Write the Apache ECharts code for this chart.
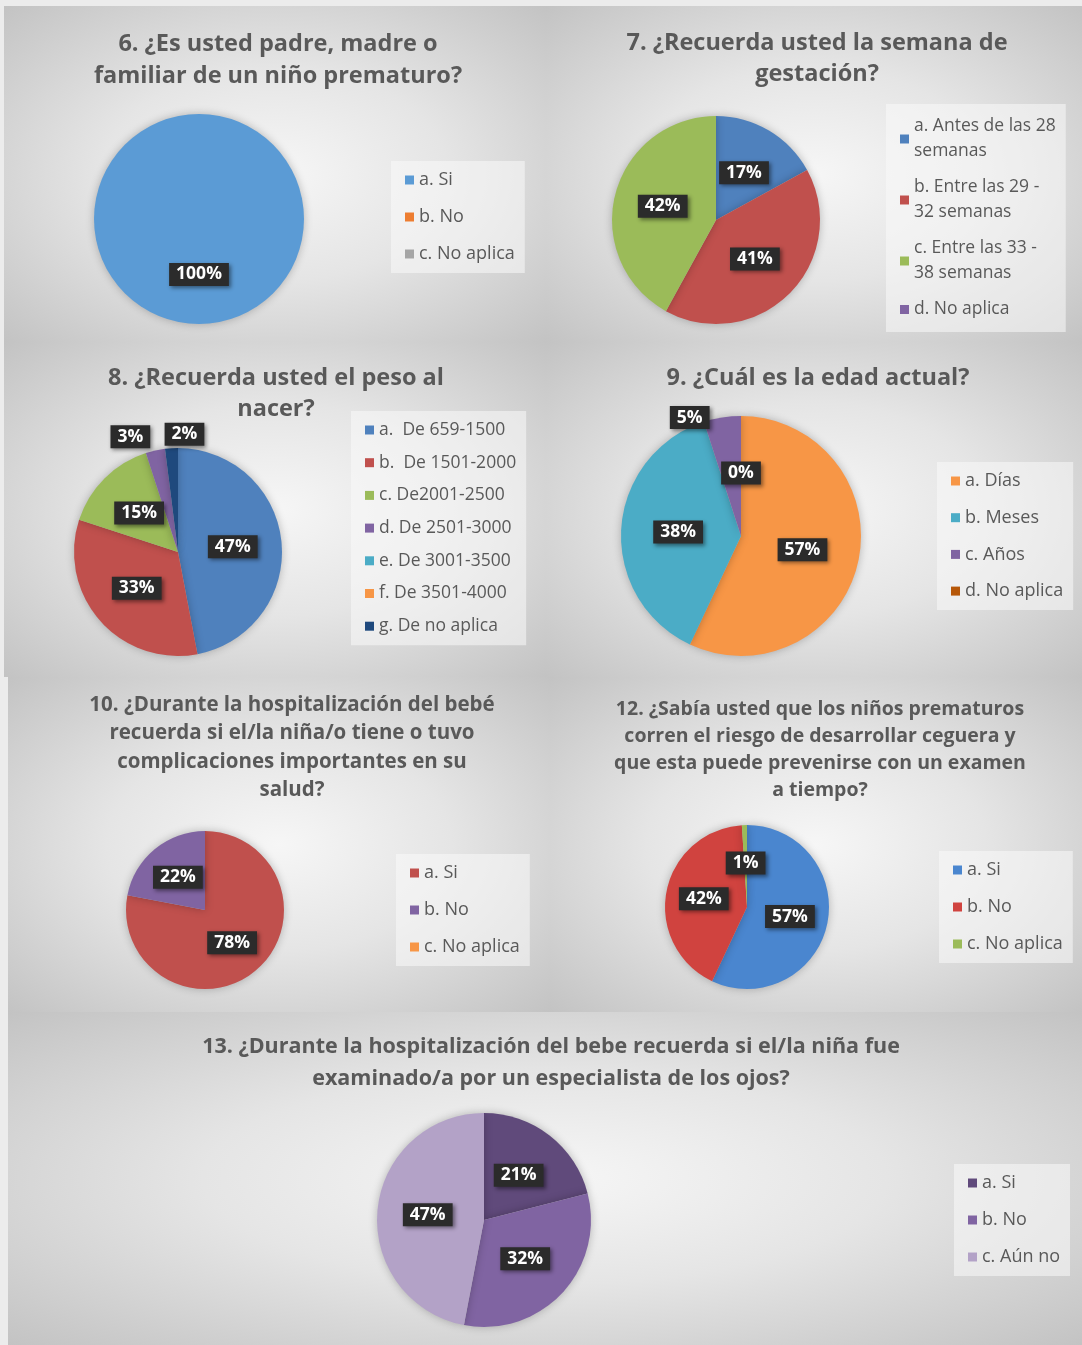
<!DOCTYPE html>
<html>
<head>
<meta charset="UTF-8">
<title>Encuesta - prematuros</title>
<script src="https://cdn.jsdelivr.net/npm/echarts@6/dist/echarts.min.js"></script>
<style>
    html, body { margin: 0; padding: 0; }
    body { width: 1082px; height: 1345px; background: #ececec; position: relative; overflow: hidden; }
    .panel {
        position: absolute;
        background: radial-gradient(ellipse at center, #f6f6f6 0%, #e5e5e5 45%, #c3c3c3 100%);
    }
</style>
</head>
<body>

<div id="p6" class="panel" style="left:4px;top:6px;width:542px;height:336px;"></div>
<div id="p7" class="panel" style="left:546px;top:6px;width:536px;height:336px;"></div>
<div id="p8" class="panel" style="left:4px;top:342px;width:542px;height:335px;"></div>
<div id="p9" class="panel" style="left:546px;top:342px;width:536px;height:335px;"></div>
<div id="p10" class="panel" style="left:8px;top:677px;width:542px;height:335px;"></div>
<div id="p12" class="panel" style="left:550px;top:677px;width:532px;height:335px;"></div>
<div id="p13" class="panel" style="left:8px;top:1012px;width:1074px;height:333px;"></div>

<script type="text/javascript">
// datos de cada pregunta (porcentajes)
var cats6 = ['a. Si', 'b. No', 'c. No aplica'];
var vals6 = [100, 0, 0];

var cats7 = ['a. Antes de las 28 semanas', 'b. Entre las 29 - 32 semanas', 'c. Entre las 33 - 38 semanas', 'd. No aplica'];
var vals7 = [17, 41, 42, 0];

var cats8 = ['a.  De 659-1500', 'b.  De 1501-2000', 'c. De2001-2500', 'd. De 2501-3000', 'e. De 3001-3500', 'f. De 3501-4000', 'g. De no aplica'];
var vals8 = [47, 33, 15, 3, 0, 0, 2];

var cats9 = ['a. Días', 'b. Meses', 'c. Años', 'd. No aplica'];
var vals9 = [57, 38, 5, 0];

var cats10 = ['a. Si', 'b. No', 'c. No aplica'];
var vals10 = [78, 22, 0];

var cats12 = ['a. Si', 'b. No', 'c. No aplica'];
var vals12 = [57, 42, 1];

var cats13 = ['a. Si', 'b. No', 'c. Aún no'];
var vals13 = [21, 32, 47];

var FONT = '"Open Sans", Lato, sans-serif';

// corta el texto de la leyenda en lineas de maxChars
function wrap(name, maxChars) {
    var words = name.split(' '), lines = [], cur = '';
    for (var i = 0; i < words.length; i++) {
        var next = cur ? cur + ' ' + words[i] : words[i];
        if (next.length > maxChars && cur) { lines.push(cur); cur = words[i]; }
        else cur = next;
    }
    if (cur) lines.push(cur);
    return lines.join('\n');
}

function makePie(id, cfg) {
    var chart = echarts.init(document.getElementById(id), null, { renderer: 'canvas' });
    var data = [];
    for (var i = 0; i < cfg.cats.length; i++) {
        var item = { name: cfg.cats[i], value: cfg.vals[i] };
        if (cfg.vals[i] === 0 && cfg.hideZero) {
            item.label = { show: false };
        } else if (cfg.outside && cfg.outside.indexOf(i) >= 0) {
            item.label = { position: 'outside', distanceToLabelLine: 2 };
            item.labelLine = { show: false, length: cfg.outLen, length2: 0 };
        }
        data.push(item);
    }
    var shift = cfg.shift || {};
    var option = {
        color: cfg.colors,
        textStyle: { fontFamily: FONT },
        title: {
            text: cfg.title,
            left: cfg.titleX,
            top: cfg.titleTop,
            textAlign: 'center',
            padding: 0,
            textStyle: {
                fontFamily: FONT,
                fontSize: cfg.titleSize,
                lineHeight: cfg.titleLine,
                fontWeight: 'bold',
                color: '#595959'
            }
        },
        legend: {
            orient: 'vertical',
            left: cfg.legend.left,
            top: cfg.legend.top,
            itemGap: cfg.legend.gap,
            itemWidth: 9,
            itemHeight: 9,
            icon: 'rect',
            padding: [10, 10, 10, 14],
            backgroundColor: 'rgba(250,250,250,0.55)',
            data: cfg.cats,
            formatter: function (name) {
                return cfg.legend.wrap ? wrap(name, cfg.legend.wrap) : name;
            },
            textStyle: {
                fontFamily: FONT,
                fontSize: cfg.legend.fontSize || 18,
                lineHeight: cfg.legend.lineHeight || 18,
                color: '#595959'
            }
        },
        series: [{
            type: 'pie',
            center: cfg.center,
            radius: cfg.radius,
            startAngle: 90,
            avoidLabelOverlap: false,
            itemStyle: {
                shadowBlur: 8,
                shadowColor: 'rgba(0,0,0,0.25)'
            },
            label: {
                show: true,
                position: 'inside',
                formatter: function (p) { return Math.round(p.percent) + '%'; },
                color: '#ffffff',
                fontFamily: FONT,
                fontWeight: 'bold',
                fontSize: 17.5,
                backgroundColor: '#2b2b2b',
                padding: [3, 7, 2, 7],
                shadowBlur: 4,
                shadowColor: 'rgba(0,0,0,0.45)',
                shadowOffsetX: 2,
                shadowOffsetY: 2
            },
            labelLine: { show: false },
            labelLayout: function (p) {
                var s = shift[p.dataIndex];
                var out = { hideOverlap: false };
                if (s) {
                    for (var k in s) out[k] = s[k];
                }
                return out;
            },
            emphasis: { disabled: true },
            data: data
        }]
    };
    chart.setOption(option);
    return chart;
}

makePie('p6', {
    title: '6. ¿Es usted padre, madre o\nfamiliar de un niño prematuro?',
    titleSize: 23.5, titleLine: 32, titleTop: 22, titleX: 274,
    cats: cats6, vals: vals6, hideZero: true,
    colors: ['#5b9bd5', '#ed7d31', '#a5a5a5'],
    center: [195, 213], radius: 105,
    legend: { left: 387, top: 155, gap: 19 }
});

makePie('p7', {
    title: '7. ¿Recuerda usted la semana de\ngestación?',
    titleSize: 23.5, titleLine: 31, titleTop: 22, titleX: 271,
    cats: cats7, vals: vals7, hideZero: true,
    colors: ['#4f81bd', '#c0504d', '#9bbb59', '#8064a2'],
    center: [170, 214], radius: 104,
    legend: { left: 340, top: 98, gap: 11, lineHeight: 25, wrap: 18, fontSize: 17.5 }
});

makePie('p8', {
    title: '8. ¿Recuerda usted el peso al\nnacer?',
    titleSize: 23.5, titleLine: 31, titleTop: 21, titleX: 272,
    cats: cats8, vals: vals8, hideZero: true, outside: [3, 6], outLen: 14,
    shift: { 6: { align: 'left', dx: -4 } },
    colors: ['#4f81bd', '#c0504d', '#9bbb59', '#8064a2', '#4bacc6', '#f79646', '#1f497d'],
    center: [174, 210], radius: 104,
    legend: { left: 347, top: 69, gap: 14.7, fontSize: 17.5 }
});

makePie('p9', {
    title: '9. ¿Cuál es la edad actual?',
    titleSize: 23.5, titleLine: 31, titleTop: 21, titleX: 272,
    cats: cats9, vals: vals9, hideZero: false, outside: [2], outLen: 4,
    shift: { 2: { dx: -10, dy: 4 } },
    colors: ['#f79646', '#4bacc6', '#8064a2', '#b65708'],
    center: [195, 194], radius: 120,
    legend: { left: 391, top: 120, gap: 18.7 }
});

makePie('p10', {
    title: '10. ¿Durante la hospitalización del bebé\nrecuerda si el/la niña/o tiene o tuvo\ncomplicaciones importantes en su\nsalud?',
    titleSize: 20.5, titleLine: 28.3, titleTop: 14, titleX: 284,
    cats: cats10, vals: vals10, hideZero: true,
    colors: ['#c0504d', '#8064a2', '#f79646'],
    center: [197, 233], radius: 79,
    legend: { left: 388, top: 177, gap: 19 }
});

makePie('p12', {
    title: '12. ¿Sabía usted que los niños prematuros\ncorren el riesgo de desarrollar ceguera y\nque esta puede prevenirse con un examen\na tiempo?',
    titleSize: 19.5, titleLine: 27, titleTop: 19, titleX: 270,
    cats: cats12, vals: vals12, hideZero: true,
    colors: ['#4a86cf', '#d0433f', '#9bbb59'],
    center: [197, 230], radius: 82,
    legend: { left: 389, top: 174, gap: 19 }
});

makePie('p13', {
    title: '13. ¿Durante la hospitalización del bebe recuerda si el/la niña fue\nexaminado/a por un especialista de los ojos?',
    titleSize: 21.5, titleLine: 32, titleTop: 19, titleX: 543,
    cats: cats13, vals: vals13, hideZero: true,
    colors: ['#604a7b', '#8064a2', '#b3a2c7'],
    center: [476, 208], radius: 107,
    legend: { left: 946, top: 152, gap: 19 }
});
</script>
</body>
</html>
